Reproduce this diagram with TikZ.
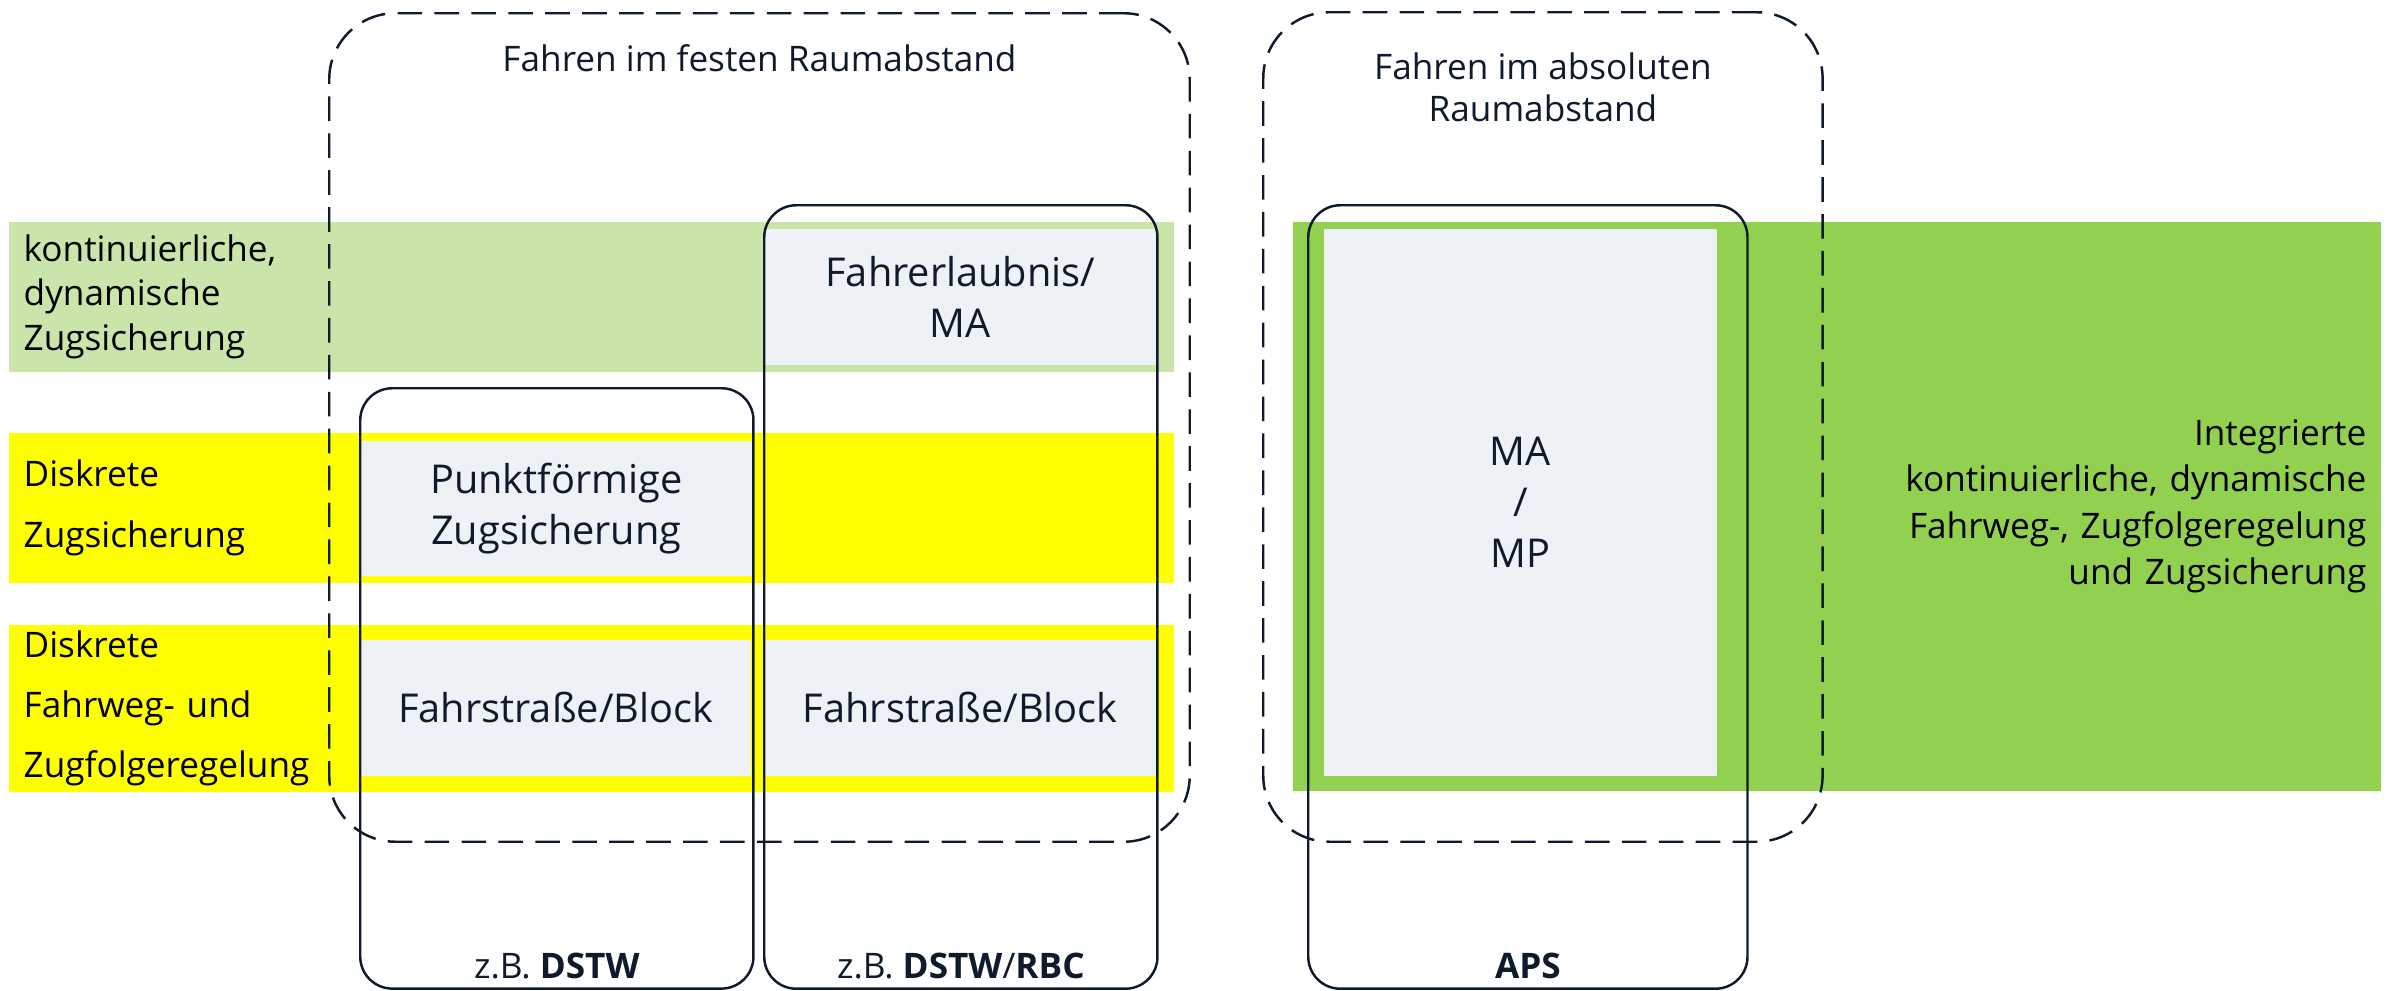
\documentclass[tikz,border=0pt]{standalone}
\usepackage{fontspec}
\setmainfont{Open Sans}
\usepackage{tikz}
\usetikzlibrary{positioning}
\definecolor{bandlight}{HTML}{C9E5A9}
\definecolor{bandyellow}{HTML}{FFFF00}
\definecolor{bandgreen}{HTML}{92D050}
\definecolor{boxgrey}{HTML}{EEF2F6}
\definecolor{inkdark}{HTML}{0F1B2D}
\tikzset{
  band/.style={
    rectangle,
    anchor=north west,
    inner xsep=0.15cm,
    inner ysep=0pt,
    align=left,
    text width=11.35cm,
    minimum width=11.65cm,
    text=black,
    font=\fontsize{10}{12.7}\selectfont
    },
  greybox/.style={
    rectangle,
    anchor=north west,
    inner sep=0pt,
    align=center,
    fill=boxgrey,
    text=inkdark,
    font=\fontsize{11.3}{14.5}\selectfont
    },
  system/.style={
    rectangle,
    anchor=north west,
    rounded corners=0.32cm,
    draw=inkdark,
    line width=0.7pt
    },
  spacing/.style={
    rectangle,
    anchor=north west,
    rounded corners=0.66cm,
    draw=inkdark,
    line width=0.7pt,
    dash pattern=on 7pt off 3.5pt
    },
  tag/.style={
    text=inkdark,
    align=center,
    inner sep=0pt,
    font=\fontsize{10}{12}\selectfont
    },
}

\begin{document}
\begin{tikzpicture}[
            x = 0.01cm, % one unit = one pixel
            y = -0.01cm
        ]
        \useasboundingbox (0,0) rectangle (2395,990);

        % Ebenen
        \node[band, fill=bandlight, minimum height=1.50cm] (kont) at (8,221)
            {kontinuierliche,\\dynamische\\Zugsicherung};
        \node[band, fill=bandyellow, minimum height=1.50cm,
              font=\fontsize{10}{17.5}\selectfont] (dzs) at (8,432)
            {Diskrete\\Zugsicherung};
        \node[band, fill=bandyellow, minimum height=1.67cm,
              font=\fontsize{10}{17}\selectfont] (dfz) at (8,624)
            {Diskrete\\Fahrweg- und\\Zugfolgeregelung};
        \node[band, fill=bandgreen, minimum width=10.88cm, minimum height=5.69cm,
              text width=10.58cm, align=right,
              font=\fontsize{10}{13.2}\selectfont] (integ) at (1292,221)
            {Integrierte\\kontinuierliche, dynamische\\Fahrweg-, Zugfolgeregelung\\und Zugsicherung};

        % Funktionen
        \node[greybox, minimum width=3.91cm, minimum height=1.36cm] (fma) at (764,228)
            {Fahrerlaubnis/\\MA};
        \node[greybox, minimum width=3.91cm, minimum height=1.35cm] (pzs) at (360,440)
            {Punktförmige\\Zugsicherung};
        \node[greybox, minimum width=3.90cm, minimum height=1.36cm] (fb1) at (360,639)
            {Fahrstraße/Block};
        \node[greybox, minimum width=3.91cm, minimum height=1.36cm] (fb2) at (764,639)
            {Fahrstraße/Block};
        \node[greybox, minimum width=3.93cm, minimum height=5.47cm] (mamp) at (1323,228)
            {MA\\/\\MP};

        % Systeme
        \node[system, minimum width=3.93cm, minimum height=6.00cm] (dstw) at (359,387) {};
        \node[system, minimum width=3.93cm, minimum height=7.83cm] (rbc) at (763,204) {};
        \node[system, minimum width=4.39cm, minimum height=7.83cm] (aps) at (1307,204) {};
        \node[tag] (tdstw) at ([yshift=0.24cm]dstw.south) {z.B. \textbf{DSTW}};
        \node[tag] (trbc) at ([yshift=0.24cm]rbc.south) {z.B. \textbf{DSTW}/\textbf{RBC}};
        \node[tag] (taps) at ([yshift=0.24cm]aps.south) {\textbf{APS}};

        % Raumabstand
        \node[spacing, minimum width=8.60cm, minimum height=8.28cm] (fest) at (328,12) {};
        \node[spacing, minimum width=5.59cm, minimum height=8.29cm] (abs) at (1262,11) {};
        \node[tag] (tfest) at ([yshift=-0.46cm]fest.north) {Fahren im festen Raumabstand};
        \node[tag] (tabs) at ([yshift=-0.76cm]abs.north) {Fahren im absoluten\\Raumabstand};
\end{tikzpicture}
\end{document}
